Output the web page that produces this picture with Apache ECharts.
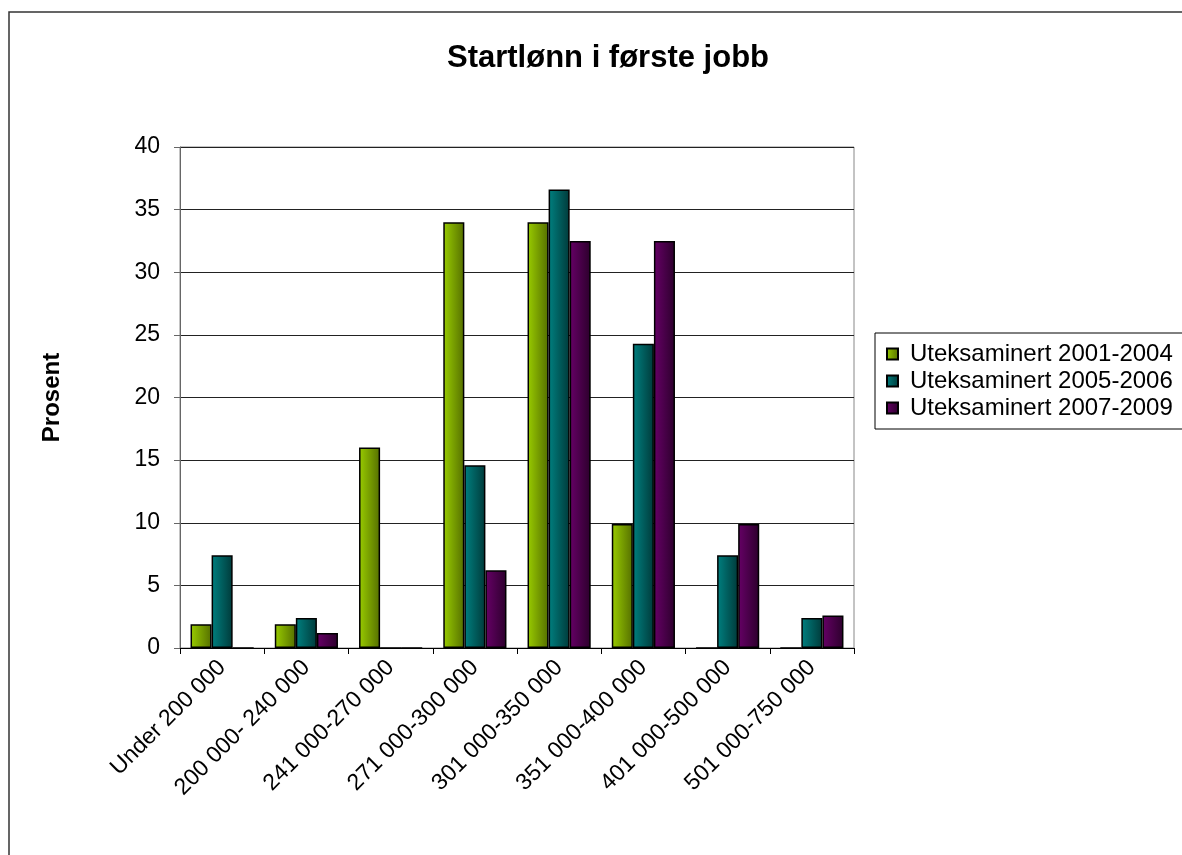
<!DOCTYPE html>
<html>
<head>
<meta charset="utf-8">
<script src="https://cdn.jsdelivr.net/npm/echarts@6/dist/echarts.min.js"></script>
<style>
html,body{margin:0;padding:0;background:#fff;}
#chart{width:1182px;height:855px;}
</style>
</head>
<body>
<div id="chart"></div>
<script>
const categories = ['Under 200 000','200 000- 240 000','241 000-270 000','271 000-300 000','301 000-350 000','351 000-400 000','401 000-500 000','501 000-750 000'];
const seriesNames = ['Uteksaminert 2001-2004','Uteksaminert 2005-2006','Uteksaminert 2007-2009'];
const values2001 = [1.9, 1.9, 16.0, 34.0, 34.0, 9.9, 0, 0];
const values2005 = [7.4, 2.4, 0, 14.6, 36.6, 24.3, 7.4, 2.4];
const values2007 = [0, 1.2, 0, 6.2, 32.5, 32.5, 9.9, 2.6];
const yTicks = {min: 0, max: 40, interval: 5};

const FONT = "'Liberation Sans', Arial, sans-serif";
function grad(a, b) {
  return new echarts.graphic.LinearGradient(0, 0, 1, 0, [
    {offset: 0, color: a}, {offset: 1, color: b}
  ]);
}
const colorPairs = [['#99CC00', '#556f00'], ['#008080', '#003a3a'], ['#660066', '#2c002c']];
const dataSets = [values2001, values2005, values2007];

const chart = echarts.init(document.getElementById('chart'), null, {renderer: 'canvas'});
chart.setOption({
  backgroundColor: '#fff',
  animation: false,
  title: {
    text: 'Startlønn i første jobb',
    left: 603, top: 38, textAlign: 'center',
    textStyle: {fontFamily: FONT, fontSize: 31, fontWeight: 'bold', color: '#000'}
  },
  legend: {
    orient: 'vertical',
    left: 875, top: 333,
    padding: [9, 40, 9, 11],
    itemGap: 3,
    itemWidth: 11, itemHeight: 11,
    borderColor: '#000', borderWidth: 1,
    icon: 'rect',
    textStyle: {fontFamily: FONT, fontSize: 24, color: '#000', padding: [0, 0, 0, 7]},
    data: seriesNames
  },
  grid: {
    left: 180, right: 328, top: 147, bottom: 207,
    show: true, borderColor: '#888', borderWidth: 1
  },
  xAxis: {
    type: 'category',
    data: categories,
    boundaryGap: true,
    axisLine: {lineStyle: {color: '#000', width: 1}},
    axisTick: {show: true, interval: 0, length: 6, lineStyle: {color: '#000'}},
    axisLabel: {interval: 0, rotate: 45, margin: 16, fontFamily: FONT, fontSize: 23, color: '#000'}
  },
  yAxis: {
    type: 'value',
    min: yTicks.min, max: yTicks.max, interval: yTicks.interval,
    name: 'Prosent',
    nameLocation: 'middle',
    nameGap: 116,
    nameTextStyle: {fontFamily: FONT, fontSize: 24, fontWeight: 'bold', color: '#000'},
    axisLine: {show: true, lineStyle: {color: '#666', width: 1}},
    axisTick: {show: true, length: 6, lineStyle: {color: '#666'}},
    axisLabel: {margin: 20, fontFamily: FONT, fontSize: 23, color: '#000'},
    splitLine: {show: true, lineStyle: {color: '#222', width: 1}}
  },
  series: seriesNames.map((n, i) => ({
    name: n,
    type: 'bar',
    data: dataSets[i],
    barGap: '0%',
    barCategoryGap: '25%',
    itemStyle: {color: grad(colorPairs[i][0], colorPairs[i][1]), borderColor: '#000', borderWidth: 1.5}
  })),
  graphic: [{
    type: 'rect',
    shape: {x: 9, y: 12, width: 1300, height: 1000},
    style: {fill: 'none', stroke: '#333', lineWidth: 1.5},
    silent: true, z: -1
  }]
});
</script>
</body>
</html>
